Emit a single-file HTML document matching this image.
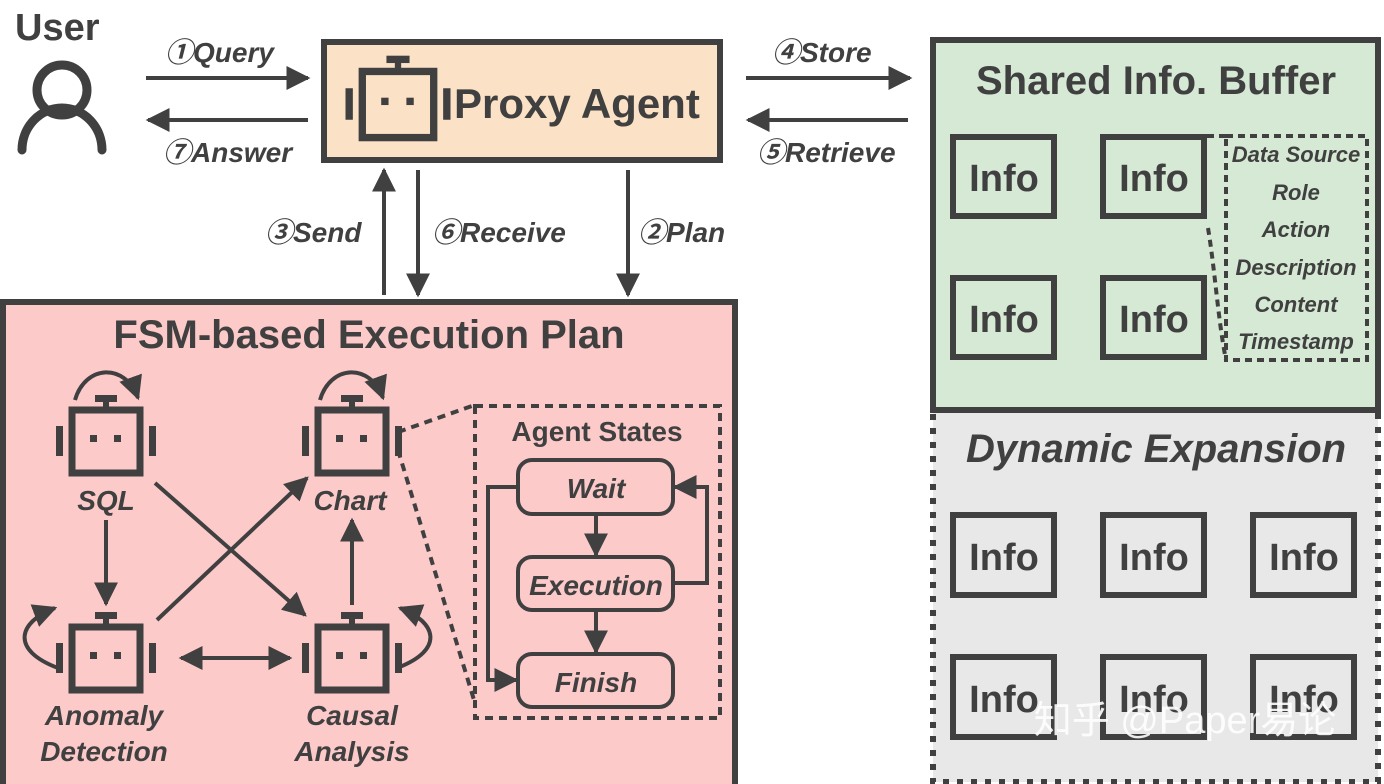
<!DOCTYPE html>
<html><head><meta charset="utf-8"><style>
html,body{margin:0;padding:0;background:#fff;width:1384px;height:784px;overflow:hidden}
svg text{font-family:"Liberation Sans","Noto Sans CJK SC",sans-serif;fill:#404040;font-weight:bold}
.i{font-style:italic}
</style></head><body>
<svg width="1384" height="784" viewBox="0 0 1384 784" xmlns="http://www.w3.org/2000/svg">
<defs>
<marker id="a" viewBox="0 0 10 10" refX="9" refY="5" markerWidth="6" markerHeight="6" orient="auto-start-reverse" markerUnits="strokeWidth"><path d="M0,0L10,5L0,10z" fill="#404040"/></marker>
<g id="r">
<rect x="-34" y="-31" width="68" height="63" fill="none" stroke="#404040" stroke-width="7"/>
<rect x="-11" y="-46" width="22" height="7" fill="#404040"/>
<rect x="-3" y="-42" width="6" height="10" fill="#404040"/>
<rect x="-50" y="-15" width="7" height="30" fill="#404040"/>
<rect x="43" y="-15" width="7" height="30" fill="#404040"/>
<rect x="-16" y="-6" width="7" height="7" fill="#404040"/>
<rect x="8" y="-6" width="7" height="7" fill="#404040"/>
</g>
</defs>
<g stroke="#404040" fill="none">
<circle cx="62" cy="90" r="25" stroke-width="9"/>
<path d="M22,150 A40,42 0 0 1 102,150" stroke-width="9" stroke-linecap="round"/>
</g>
<text x="15" y="40" font-size="38">User</text>
<rect x="324" y="42" width="396" height="118" fill="#fbe1c6" stroke="#404040" stroke-width="6"/>
<use href="#r" transform="translate(398,104) scale(1.05,1.05)"/>
<text x="454" y="118" font-size="42" font-weight="bold">Proxy Agent</text>
<g stroke="#404040" stroke-width="4" fill="none">
<line x1="146" y1="78" x2="308" y2="78" marker-end="url(#a)"/>
<line x1="308" y1="120" x2="148" y2="120" marker-end="url(#a)"/>
<line x1="746" y1="78" x2="910" y2="78" marker-end="url(#a)"/>
<line x1="908" y1="120" x2="748" y2="120" marker-end="url(#a)"/>
<line x1="384" y1="295" x2="384" y2="170" marker-end="url(#a)"/>
<line x1="418" y1="170" x2="418" y2="295" marker-end="url(#a)"/>
<line x1="628" y1="170" x2="628" y2="295" marker-end="url(#a)"/>
</g>
<g font-size="28">
<text x="165" y="62" class="i">①Query</text>
<text x="163" y="162" class="i">⑦Answer</text>
<text x="772" y="62" class="i">④Store</text>
<text x="757" y="162" class="i">⑤Retrieve</text>
<text x="265" y="242" class="i">③Send</text>
<text x="432" y="242" class="i">⑥Receive</text>
<text x="638" y="242" class="i">②Plan</text>
</g>
<rect x="3" y="302" width="732" height="486" fill="#fdcaca" stroke="#404040" stroke-width="6"/>
<text x="369" y="348" font-size="40" text-anchor="middle">FSM-based Execution Plan</text>
<use href="#r" transform="translate(106,441)"/>
<use href="#r" transform="translate(352,441)"/>
<use href="#r" transform="translate(106,658)"/>
<use href="#r" transform="translate(352,658)"/>
<g font-size="28" text-anchor="middle">
<text x="106" y="510" class="i">SQL</text>
<text x="350" y="510" class="i">Chart</text>
<text x="104" y="725" class="i">Anomaly</text>
<text x="104" y="761" class="i">Detection</text>
<text x="352" y="725" class="i">Causal</text>
<text x="352" y="761" class="i">Analysis</text>
</g>
<g stroke="#404040" stroke-width="4" fill="none">
<path d="M75,400 C85,365 125,362 138,398" marker-end="url(#a)"/>
<path d="M320,400 C330,365 370,362 383,398" marker-end="url(#a)"/>
<path d="M58,668 C10,650 18,622 55,608" marker-end="url(#a)"/>
<path d="M397,668 C445,650 437,622 400,608" marker-end="url(#a)"/>
<line x1="106" y1="520" x2="106" y2="604" marker-end="url(#a)"/>
<line x1="352" y1="605" x2="352" y2="520" marker-end="url(#a)"/>
<line x1="155" y1="483" x2="305" y2="615" marker-end="url(#a)"/>
<line x1="157" y1="620" x2="307" y2="478" marker-end="url(#a)"/>
<line x1="181" y1="658" x2="290" y2="658" marker-start="url(#a)" marker-end="url(#a)"/>
<line x1="398" y1="432" x2="472" y2="406" stroke-dasharray="8,6"/>
<line x1="398" y1="450" x2="474" y2="700" stroke-dasharray="8,6"/>
<rect x="475" y="406" width="245" height="312" stroke-dasharray="8,6"/>
<rect x="518" y="460" width="155" height="54" rx="14"/>
<rect x="518" y="557" width="155" height="53" rx="14"/>
<rect x="518" y="654" width="155" height="53" rx="14"/>
<line x1="596" y1="514" x2="596" y2="555" marker-end="url(#a)"/>
<line x1="596" y1="610" x2="596" y2="652" marker-end="url(#a)"/>
<polyline points="518,487 488,487 488,680 516,680" marker-end="url(#a)"/>
<polyline points="673,583 707,583 707,487 675,487" marker-end="url(#a)"/>
</g>
<text x="597" y="441" font-size="28" text-anchor="middle" font-weight="bold">Agent States</text>
<g font-size="28" text-anchor="middle">
<text x="596" y="498" class="i">Wait</text>
<text x="596" y="595" class="i">Execution</text>
<text x="596" y="692" class="i">Finish</text>
</g>
<rect x="933" y="40" width="445" height="370" fill="#d5e9d4" stroke="#404040" stroke-width="6"/>
<rect x="933" y="410" width="445" height="372" fill="#e8e8e8" stroke="#404040" stroke-width="6" stroke-dasharray="6,8"/>
<line x1="930" y1="410" x2="1381" y2="410" stroke="#404040" stroke-width="6"/>
<text x="1156" y="94" font-size="40" text-anchor="middle">Shared Info. Buffer</text>
<text x="1156" y="462" font-size="40" text-anchor="middle" class="i">Dynamic Expansion</text>
<g stroke="#404040" stroke-width="6" fill="none">
<rect x="953" y="137" width="101" height="79"/>
<rect x="1103" y="137" width="101" height="79"/>
<rect x="953" y="278" width="101" height="79"/>
<rect x="1103" y="278" width="101" height="79"/>
<rect x="953" y="515" width="101" height="80"/>
<rect x="1103" y="515" width="101" height="80"/>
<rect x="1253" y="515" width="101" height="80"/>
<rect x="953" y="657" width="101" height="80"/>
<rect x="1103" y="657" width="101" height="80"/>
<rect x="1253" y="657" width="101" height="80"/>
</g>
<g stroke="#404040" stroke-width="4" fill="none" stroke-dasharray="7,5">
<rect x="1226" y="136" width="141" height="224"/>
<line x1="1207" y1="136" x2="1226" y2="136"/>
<path d="M1208,228 C1215,270 1218,320 1226,360"/>
</g>
<g font-size="38" text-anchor="middle" font-weight="bold">
<text x="1004" y="191">Info</text><text x="1154" y="191">Info</text>
<text x="1004" y="332">Info</text><text x="1154" y="332">Info</text>
<text x="1004" y="570">Info</text><text x="1154" y="570">Info</text><text x="1304" y="570">Info</text>
<text x="1004" y="712">Info</text><text x="1154" y="712">Info</text><text x="1304" y="712">Info</text>
</g>
<g font-size="22" text-anchor="middle">
<text x="1296" y="162" class="i">Data Source</text>
<text x="1296" y="200" class="i">Role</text>
<text x="1296" y="237" class="i">Action</text>
<text x="1296" y="275" class="i">Description</text>
<text x="1296" y="312" class="i">Content</text>
<text x="1296" y="349" class="i">Timestamp</text>
</g>
<text x="1185" y="733" font-size="38" text-anchor="middle" style="fill:#fff;font-weight:normal;opacity:0.9">知乎 @Paper易论</text>
</svg>
</body></html>
